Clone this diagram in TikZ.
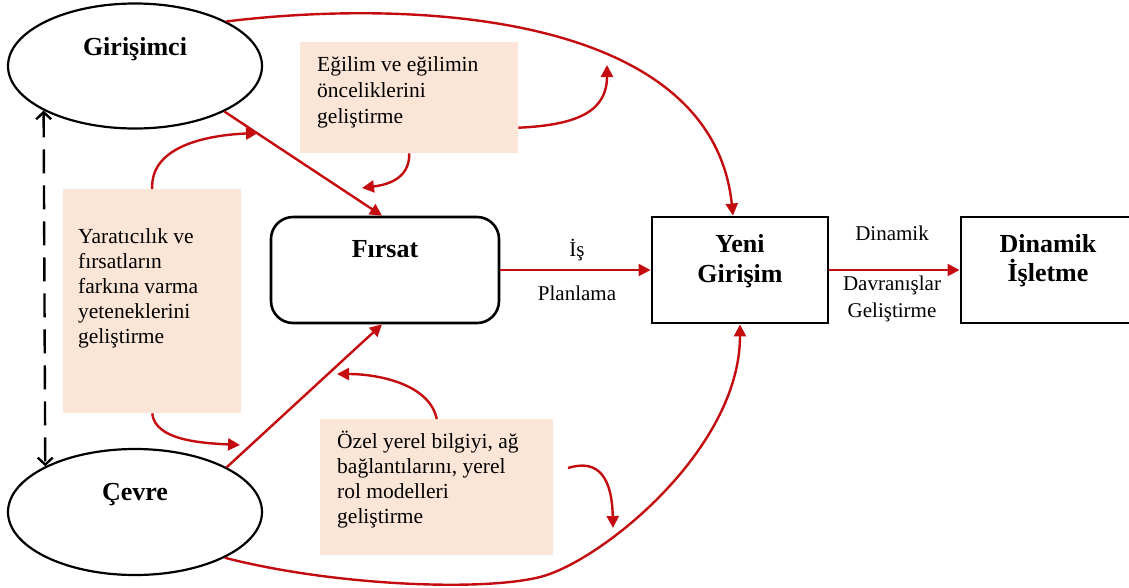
\documentclass[tikz,border=0pt]{standalone}
\usepackage{fontspec}
\setmainfont{Liberation Serif}
\usetikzlibrary{arrows.meta,shapes.geometric,calc}
\definecolor{arrowred}{RGB}{196,12,16}
\definecolor{boxpink}{RGB}{251,229,214}
\begin{document}
\begin{tikzpicture}[x=1pt,y=-1pt,
  redarrow/.style={draw=arrowred, line width=2.4pt, -{Triangle[length=12pt,width=12pt]}},
  pinkbox/.style={rectangle, fill=boxpink, draw=none, inner sep=0, anchor=north west},
  ell/.style={ellipse, draw, line width=2.2pt, inner sep=0, minimum width=254pt, minimum height=125pt},
  boxtext/.style={anchor=north west, align=left, inner sep=0, font=\fontsize{21.5}{25}\selectfont},
  boldlabel/.style={font=\fontsize{26}{30}\selectfont\bfseries, inner sep=0},
  midlabel/.style={font=\fontsize{21}{27}\selectfont, inner sep=0},
  flowbox/.style={draw, line width=2.9pt, inner sep=0, minimum height=106pt},
]
\useasboundingbox (0,0) rectangle (1129,587);

% pink boxes
\node[pinkbox, minimum width=218pt, minimum height=111pt] (pe) at (300,42) {};
\node[pinkbox, minimum width=178pt, minimum height=224pt] (py) at (63,189) {};
\node[pinkbox, minimum width=233pt, minimum height=136pt] (po) at (320,419) {};

\node[boxtext, font=\fontsize{21.5}{26}\selectfont] (te) at (317,51) {\rule{0pt}{20pt}Eğilim ve eğilimin\\önceliklerini\\geliştirme};
\node[boxtext] (ty) at (78,223) {\rule{0pt}{20pt}Yaratıcılık ve\\fırsatların\\farkına varma\\yeteneklerini\\geliştirme};
\node[boxtext] (to) at (337,428) {\rule{0pt}{20pt}Özel yerel bilgiyi, ağ\\bağlantılarını, yerel\\rol modelleri\\geliştirme};

% ellipses
\node[ell] (g) at (135,66) {};
\node[ell, minimum height=126pt] (c) at (135,512) {};
\node[boldlabel, anchor=base] (lg) at (135,55) {Girişimci};
\node[boldlabel, anchor=base] (lc) at (135,500) {Çevre};

% boxes
\node[flowbox, rounded corners=22pt, line width=2.6pt, minimum width=228pt] (f) at (385,270) {};
\node[flowbox, minimum width=176pt] (y) at (740,270) {};
\node[flowbox, minimum width=171pt] (d) at (1046.5,270) {};
\node[boldlabel, anchor=base] (lf) at (385,257) {Fırsat};
\node[boldlabel, anchor=north, align=center] (ly) at (740,228) {\rule{0pt}{24pt}Yeni\\Girişim};
\node[boldlabel, anchor=north, align=center, font=\fontsize{26}{29}\selectfont\bfseries] (ld) at (1048,228) {\rule{0pt}{24pt}Dinamik\\İşletme};

\node[midlabel, anchor=base] (l1) at (577,256) {İş};
\node[midlabel, anchor=base] (l2) at (577,300) {Planlama};
\node[midlabel, anchor=base] (l3) at (892,240) {Dinamik};
\node[midlabel, anchor=north, align=center] (l4) at (892,270) {\rule{0pt}{20pt}Davranışlar\\Geliştirme};

% dashed two-way arrow
\draw[line width=2.4pt, dash pattern=on 24pt off 12pt,
  {Straight Barb[length=7pt,width=15pt]}-{Straight Barb[length=7pt,width=15pt]}]
  (g.206.9) -- (c.153.1);

% main red arrows
\draw[redarrow] (g.-27.6) -- ([xshift=-3pt]f.north);
\draw[redarrow] (c.26) -- ([xshift=-3pt]f.south);
\draw[redarrow] (f.east) -- (y.west);
\draw[redarrow] (y.east) -- (d.west);
\draw[redarrow] (g.26.6) .. controls (420,-2) and (712,15) .. ([xshift=-7pt]y.north);
\coordinate (cb) at (540,577);
\draw[redarrow] (c.-27.6) .. controls (330,585) and (480,592) .. (cb)
  .. controls (600,562) and (740,450) .. (y.south);

% small curved arrows
\coordinate (e1) at (258,133);
\coordinate (e2) at (362,188);
\coordinate (e3) at (607,65);
\coordinate (e4) at (240,445);
\coordinate (e5) at (337,374);
\coordinate (s6) at (568,468);
\coordinate (e6) at (613,528);
\draw[redarrow] (py.north) .. controls (150,145) and (210,135) .. (e1);
\draw[redarrow] (pe.south) .. controls (410,180) and (385,185) .. (e2);
\draw[redarrow] ([yshift=-30pt]pe.east) .. controls (580,125) and (607,110) .. (e3);
\draw[redarrow] (py.south) .. controls (155,440) and (200,443) .. (e4);
\draw[redarrow] (po.north) .. controls (430,385) and (380,374) .. (e5);
\draw[redarrow] (s6) .. controls (600,458) and (612,480) .. (e6);
\end{tikzpicture}
\end{document}
